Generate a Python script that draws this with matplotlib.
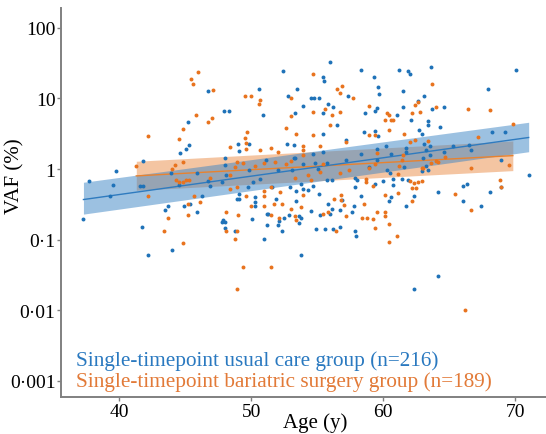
import numpy as np
import matplotlib.pyplot as plt
from matplotlib.ticker import FixedLocator, FixedFormatter, NullLocator

# usual care group: age (y), VAF (%)
usual_age = [
    46.7, 47.95, 45.2, 45.3, 45.1, 44.6, 48.0, 41.8, 39.75, 43.96, 45.9, 48.05,
    37.7, 39.55, 41.6, 41.8, 46.7, 46.9, 47.8, 44.5, 39.3, 46.3, 45.4, 44.9,
    43.7, 43.5, 45.9, 37.3, 41.7, 44.0, 42.2, 47.8, 47.9, 48.0, 48.05,
    56.0, 52.4, 58.3, 55.4, 55.5, 59.3, 50.6, 53.5, 59.6, 59.7, 52.8, 54.5,
    54.75, 55.1, 57.3, 53.9, 55.8, 56.2, 59.5, 59.4, 55.45, 58.6, 50.9, 53.3,
    48.35, 56.5, 58.5, 55.4, 59.4, 59.6, 49.0, 49.8, 49.1, 52.7, 53.2, 54.65,
    55.4, 57.2, 58.3, 60.2, 59.5, 51.1, 53.2, 53.3, 53.9, 54.8, 55.7, 57.2,
    59.5, 49.8, 52.0, 53.1, 55.05, 58.9, 48.1, 50.7, 50.1, 53.8, 55.7, 56.1,
    57.85, 58.0, 59.4, 60.0, 49.75, 51.6, 52.9, 54.7,
    53.4, 53.9, 54.3, 55.1, 57.85, 58.3, 49.1, 48.9, 49.05, 50.3, 50.25, 50.25,
    51.9, 53.4, 55.8, 56.1, 56.9, 56.7, 57.75, 57.6, 54.5, 55.2, 55.95, 51.2,
    51.3, 52.85, 52.5, 53.6, 53.75, 52.1, 53.6, 52.0, 51.2, 50.05, 52.3, 54.9,
    55.6, 56.2, 56.7, 57.85, 57.9, 51.0, 53.8, 48.8,
    61.2, 61.9, 62.0, 63.6, 70.05, 67.9, 61.5, 63.1, 62.6, 61.5, 63.7, 64.6,
    61.0, 62.1, 63.4, 63.4, 64.3, 62.7, 62.95, 69.2, 68.2, 63.1, 63.5, 61.7,
    61.7, 63.2, 66.5, 66.6, 65.3, 64.6, 63.5, 63.0, 60.55, 68.9, 61.6, 63.2,
    60.25, 60.5, 62.9, 63.4, 71.0, 60.7, 61.4, 61.9, 60.7, 66.0, 66.3,
    64.1, 68.9, 68.05, 60.6, 62.3, 60.45, 61.7, 66.0, 67.4, 64.1, 62.3,
]
usual_vaf = [
    12.6, 6.6, 4.7, 2.2, 1.9, 1.7, 1.45, 1.29, 0.93, 0.89, 0.89, 1.14,
    0.67, 0.59, 0.57, 0.57, 0.68, 0.575, 0.65, 0.60, 0.41, 0.41, 0.316, 0.30,
    0.30, 0.263, 0.245, 0.195, 0.151, 0.071, 0.060, 0.18, 0.19, 0.18, 0.145,
    33.0, 24.5, 25.7, 20.4, 17.8, 20.0, 13.8, 13.5, 14.5, 11.7, 11.0, 10.2,
    10.2, 10.0, 10.7, 7.76, 8.32, 7.5, 7.41, 6.61, 6.17, 6.17, 5.89, 6.17,
    6.61, 4.27, 3.39, 3.16, 3.47, 2.95, 2.29, 2.29, 1.80, 2.29, 2.19, 1.66,
    1.74, 2.57, 1.66, 2.09, 1.905, 1.35, 1.445, 1.445, 1.175, 1.216, 1.216, 1.35,
    1.35, 0.955, 0.955, 0.955, 1.0, 1.07, 0.832, 0.724, 0.66, 0.617, 0.69, 0.69,
    0.741, 0.708, 0.617, 0.676, 0.562, 0.562, 0.562, 0.575,
    0.49, 0.525, 0.50, 0.447, 0.562, 0.417, 0.437, 0.372, 0.372, 0.398, 0.339, 0.295,
    0.372, 0.347, 0.324, 0.275, 0.363, 0.263, 0.295, 0.245, 0.251, 0.224, 0.234, 0.234,
    0.234, 0.224, 0.20, 0.214, 0.204, 0.182, 0.17, 0.162, 0.162, 0.195, 0.132, 0.141,
    0.141, 0.141, 0.151, 0.132, 0.112, 0.102, 0.060, 0.132,
    25.7, 24.5, 22.4, 28.2, 25.7, 13.8, 12.6, 11.0, 9.12, 7.5, 7.16, 7.59,
    5.75, 5.01, 4.79, 4.17, 3.98, 3.55, 3.09, 3.39, 3.31, 2.29, 2.09, 2.0,
    1.76, 1.86, 2.19, 1.86, 2.14, 1.74, 1.585, 1.445, 1.66, 1.35, 1.07, 1.096,
    0.966, 0.871, 0.933, 0.977, 0.813, 0.724, 0.724, 0.708, 0.589, 0.575, 0.617,
    0.468, 0.562, 0.468, 0.407, 0.417, 0.355, 0.295, 0.347, 0.30, 0.031, 0.020,
]

# bariatric surgery group: age (y), VAF (%)
surgery_age = [
    46.0, 45.45, 45.6, 47.1, 45.8, 47.0, 46.7, 44.8, 42.2, 44.5, 41.3, 44.2,
    44.8, 44.0, 44.3, 44.5, 44.8, 45.1, 45.3, 46.9, 42.2, 45.7, 46.1, 45.2,
    45.2, 43.7, 43.4, 44.8, 48.1, 48.1,
    54.7, 49.5, 50.0, 50.7, 50.6, 53.0, 56.5, 56.7, 56.9, 57.7, 58.9, 55.55,
    54.7, 56.7, 53.0, 56.1, 60.1, 56.0, 52.6, 53.4, 54.7, 58.9, 59.4, 49.7,
    49.5, 49.6, 49.6, 48.4, 57.2, 55.2, 53.9, 53.9, 51.5, 52.0, 50.7, 53.9,
    59.5, 51.0, 51.8, 52.6, 53.0, 55.4, 49.4, 48.9, 48.8, 50.3, 58.9, 55.2,
    56.7, 57.4, 59.4, 54.3, 54.5, 53.3, 58.7, 58.7, 48.4, 48.9, 51.5,
    48.4, 51.0, 52.2, 49.6, 51.0, 53.9, 50.0, 51.0, 51.7, 52.35, 53.0, 53.8,
    56.3, 56.8, 56.8, 57.0, 58.5, 60.15, 59.2, 49.0, 55.4, 55.8, 57.2, 58.4,
    58.8, 59.2, 59.5, 60.1, 60.1, 53.3, 53.4, 52.1, 51.5, 48.95, 48.8, 56.4,
    59.4, 49.4, 51.5, 48.95,
    63.7, 62.4, 62.6, 64.0, 66.4, 68.1, 62.2, 62.8, 60.3, 60.4, 60.6, 60.7,
    69.8, 61.6, 60.4, 63.4, 62.4, 62.0, 67.2, 61.5, 61.4, 61.2, 62.9, 63.0,
    63.6, 64.0, 64.7, 64.1, 66.6, 69.5, 68.8, 68.9, 61.1, 62.0, 62.3, 62.6,
    62.9, 62.2, 62.5,
    61.1, 62.2, 65.45, 66.6, 60.4, 61.0, 60.4, 66.2,
]
surgery_vaf = [
    23.4, 18.6, 16.2, 13.2, 5.75, 5.37, 4.68, 3.72, 2.95, 2.63, 1.096, 1.148,
    1.26, 1.0, 0.708, 0.66, 0.646, 0.69, 0.708, 0.741, 0.417, 0.417, 0.339, 0.316,
    0.224, 0.204, 0.132, 0.091, 0.245, 0.132,
    21.9, 11.0, 10.7, 9.55, 8.32, 10.0, 13.5, 12.0, 15.1, 10.0, 7.94, 7.08,
    6.46, 6.46, 5.62, 5.75, 5.01, 4.27, 3.80, 3.16, 3.02, 3.02, 3.02, 3.31,
    2.75, 2.34, 1.95, 2.04, 2.45, 2.14, 2.14, 1.84, 2.0, 1.74, 1.84, 1.585,
    1.70, 1.23, 1.245, 1.175, 1.29, 1.175, 1.20, 1.245, 1.07, 1.096, 1.02, 0.912,
    0.871, 0.966, 1.19, 0.813, 0.708, 0.759, 0.724, 0.646, 0.832, 0.562, 0.55,
    0.525, 0.49, 0.468, 0.417, 0.417, 0.427, 0.295, 0.30, 0.324, 0.324, 0.275, 0.288,
    0.372, 0.427, 0.363, 0.309, 0.324, 0.427, 0.575, 0.224, 0.234, 0.245, 0.214, 0.20,
    0.20, 0.195, 0.245, 0.245, 0.214, 0.214, 0.19, 0.204, 0.224, 0.132, 0.102, 0.132,
    0.145, 0.041, 0.041, 0.020,
    15.8, 8.13, 8.91, 7.5, 7.08, 6.92, 6.31, 6.46, 6.17, 5.75, 5.01, 5.01,
    4.37, 3.09, 3.55, 2.51, 2.57, 2.40, 2.88, 1.585, 1.35, 1.12, 1.047, 1.047,
    1.216, 1.32, 1.48, 1.245, 1.035, 1.148, 0.708, 0.562, 0.84, 0.676, 0.63, 0.66,
    0.676, 0.537, 0.537,
    0.457, 0.347, 0.437, 0.263, 0.166, 0.112, 0.093, 0.0102,
]

# fitted lines with confidence bands (read at the ends of each fit)
usual_fit_age = [37.3, 71.0]
usual_fit_mid = [0.37, 2.8]
usual_fit_lo = [0.23, 1.76]
usual_fit_hi = [0.65, 4.6]

surgery_fit_age = [41.3, 69.8]
surgery_fit_mid = [0.80, 1.55]
surgery_fit_lo = [0.50, 0.95]
surgery_fit_hi = [1.29, 2.5]

ytick_vals = [0.001, 0.01, 0.1, 1, 10, 100]
ytick_labels = ['0·001', '0·01', '0·1', '1', '10', '100']
xtick_vals = [40, 50, 60, 70]

blue = '#1f72b8'
orange = '#e8731e'

plt.rcParams['font.family'] = ['Liberation Serif', 'DejaVu Serif']

fig = plt.figure(figsize=(5.46, 4.35), dpi=100)
ax = fig.add_axes([0.1117, 0.085, 0.888, 0.894])

# bands
ax.fill_between(surgery_fit_age, surgery_fit_lo, surgery_fit_hi,
                color='#eb8c47', alpha=0.5, lw=0, zorder=1)
ax.fill_between(usual_fit_age, usual_fit_lo, usual_fit_hi,
                color='#3b84c4', alpha=0.5, lw=0, zorder=1)
ax.plot(surgery_fit_age, surgery_fit_mid, color='#e8822f', lw=1.0, zorder=2)
ax.plot(usual_fit_age, usual_fit_mid, color='#2f7bbf', lw=1.0, zorder=2)

ax.scatter(usual_age, usual_vaf, s=8, color=blue, lw=0, zorder=3)
ax.scatter(surgery_age, surgery_vaf, s=8, color=orange, lw=0, zorder=3)

ax.set_yscale('log')
ax.set_xlim(35.6, 72.3)
ax.set_ylim(10 ** -3.23, 10 ** 2.28)
ax.yaxis.set_major_locator(FixedLocator(ytick_vals))
ax.yaxis.set_major_formatter(FixedFormatter(ytick_labels))
ax.yaxis.set_minor_locator(NullLocator())
ax.set_xticks(xtick_vals)

for side in ['top', 'right']:
    ax.spines[side].set_visible(False)
for side in ['left', 'bottom']:
    ax.spines[side].set_color('#808080')
    ax.spines[side].set_linewidth(1.4)
ax.tick_params(axis='both', length=3, width=1, color='#808080',
               labelsize=14, pad=1)

ax.set_xlabel('Age (y)', fontsize=15)
ax.xaxis.set_label_coords(0.525, -0.038)
ax.set_ylabel('VAF (%)', fontsize=15)
ax.yaxis.set_label_coords(-0.076, 0.57)

ax.text(0.03, 0.095, 'Single-timepoint usual care group (n=216)',
        transform=ax.transAxes, color='#2a79c0', fontsize=15.3, va='center')
ax.text(0.03, 0.04, 'Single-timepoint bariatric surgery group (n=189)',
        transform=ax.transAxes, color='#e27a38', fontsize=15.3, va='center')

plt.savefig('out.png', dpi=100)
